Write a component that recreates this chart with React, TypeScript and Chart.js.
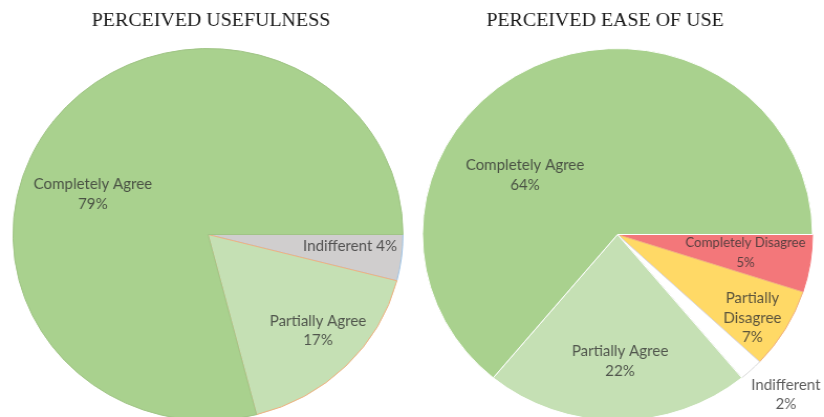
import React, { useEffect, useRef } from "react";
import { Chart, registerables } from "chart.js";

Chart.register(...registerables);

// ---- data ----
const usefulTitle = "PERCEIVED USEFULNESS";
const usefulLabels = ["Indifferent", "Partially Agree", "Completely Agree"];
const usefulValues = [4, 17, 79];

const easeTitle = "PERCEIVED EASE OF USE";
const easeLabels = ["Completely Disagree", "Partially Disagree", "Indifferent", "Partially Agree", "Completely Agree"];
const easeValues = [5, 7, 2, 22, 64];

// ---- styles ----
const SCALE_X = 195 / 186; // the reference image is slightly stretched horizontally
const PIE_R = 186;
const CANVAS_W = 393;
const CANVAS_H = 422;
const LABEL_COLOR = "rgba(50,50,50,0.8)";
const LABEL_FONT = "Lato, 'Open Sans', sans-serif";

type Place = { r: number; da: number; size: number; split: string[] | null; inline: boolean };

const usefulStyle = {
  left: 0,
  pad: { left: 12.4, right: 8.6, top: 48.5, bottom: 1.5 },
  titleX: 201.3,
  bg: ["#d0cece", "#c5e0b4", "#a9d18e"],
  border: ["#9dc3e6", "#f0b080", "#a0c486"],
  place: [
    { r: 0.731, da: -2.35, size: 14.4, split: null, inline: true },
    { r: 0.765, da: -2.5, size: 14.4, split: null, inline: false },
    { r: 0.628, da: -17.8, size: 14.4, split: null, inline: false },
  ] as Place[],
};

const easeStyle = {
  left: 412,
  pad: { left: 10, right: 11, top: 48.5, bottom: 1.5 },
  titleX: 184.1,
  bg: ["#f3777a", "#ffd966", "#ffffff", "#c5e0b4", "#a9d18e"],
  border: ["#f3777a", "#f0b080", "#d9d9d9", "#ffffff", "#ffffff"],
  place: [
    { r: 0.664, da: -0.4, size: 12.6, split: null, inline: false },
    { r: 0.825, da: 2.4, size: 14.4, split: ["Partially", "Disagree"], inline: false },
    { r: 1.221, da: -1.8, size: 14.4, split: null, inline: false },
    { r: 0.683, da: -1.1, size: 14.4, split: null, inline: false },
    { r: 0.571, da: -31, size: 14.4, split: null, inline: false },
  ] as Place[],
};

function makeLabelPlugin(labels: string[], values: number[], place: Place[]) {
  return {
    id: "sliceLabels",
    afterDatasetsDraw(chart: any) {
      const ctx = chart.ctx as CanvasRenderingContext2D;
      const meta = chart.getDatasetMeta(0);
      meta.data.forEach((arc: any, i: number) => {
        const p = place[i];
        const { x, y, startAngle, endAngle, outerRadius } = arc.getProps(
          ["x", "y", "startAngle", "endAngle", "outerRadius"],
          true
        );
        const mid = (startAngle + endAngle) / 2 + (p.da * Math.PI) / 180;
        const rr = outerRadius * p.r;
        const cx = x + Math.cos(mid) * rr;
        const cy = y + Math.sin(mid) * rr;
        const pct = `${values[i]}%`;
        let lines: string[];
        if (p.inline) lines = [`${labels[i]} ${pct}`];
        else lines = [...(p.split ?? [labels[i]]), pct];
        const lh = 19.5;
        ctx.save();
        ctx.font = `${p.size}px ${LABEL_FONT}`;
        ctx.fillStyle = LABEL_COLOR;
        ctx.textAlign = "center";
        ctx.textBaseline = "middle";
        const top = cy - ((lines.length - 1) * lh) / 2;
        lines.forEach((ln, k) => ctx.fillText(ln, cx, top + k * lh));
        ctx.restore();
      });
    },
  };
}

function makeTitlePlugin(text: string, x: number) {
  return {
    id: "pieTitle",
    afterDraw(chart: any) {
      const ctx = chart.ctx as CanvasRenderingContext2D;
      ctx.save();
      ctx.font = "19px 'Liberation Serif', 'DejaVu Serif', serif";
      ctx.fillStyle = "#1a1a1a";
      ctx.textAlign = "center";
      ctx.textBaseline = "alphabetic";
      ctx.fillText(text, x, 25.5);
      ctx.restore();
    },
  };
}

function PieBox(props: { title: string; labels: string[]; values: number[]; style: any }) {
  const ref = useRef<HTMLCanvasElement | null>(null);
  const { title, labels, values, style } = props;
  useEffect(() => {
    if (!ref.current) return;
    const chart = new Chart(ref.current, {
      type: "pie",
      data: {
        labels,
        datasets: [
          {
            data: values,
            backgroundColor: style.bg,
            borderColor: style.border,
            borderWidth: 1,
          },
        ],
      },
      options: {
        responsive: false,
        animation: false,
        devicePixelRatio: 1,
        rotation: 90,
        radius: PIE_R,
        layout: { padding: style.pad },
        plugins: { legend: { display: false }, tooltip: { enabled: false } },
      } as any,
      plugins: [makeLabelPlugin(labels, values, style.place), makeTitlePlugin(title, style.titleX)],
    });
    return () => chart.destroy();
  }, []);
  return (
    <div
      style={{
        position: "absolute",
        left: style.left,
        top: 0,
        width: CANVAS_W,
        height: CANVAS_H,
        transform: `scaleX(${SCALE_X})`,
        transformOrigin: "0 0",
      }}
    >
      <canvas
        ref={ref}
        width={CANVAS_W}
        height={CANVAS_H}
        style={{ width: CANVAS_W + "px", height: CANVAS_H + "px", display: "block" }}
      />
    </div>
  );
}

export default function App() {
  useEffect(() => {
    document.body.style.margin = "0";
  }, []);
  return (
    <div
      style={{
        position: "absolute",
        left: 0,
        top: 0,
        width: 824,
        height: 417,
        overflow: "hidden",
        background: "#ffffff",
      }}
    >
      <PieBox title={usefulTitle} labels={usefulLabels} values={usefulValues} style={usefulStyle} />
      <PieBox title={easeTitle} labels={easeLabels} values={easeValues} style={easeStyle} />
    </div>
  );
}
